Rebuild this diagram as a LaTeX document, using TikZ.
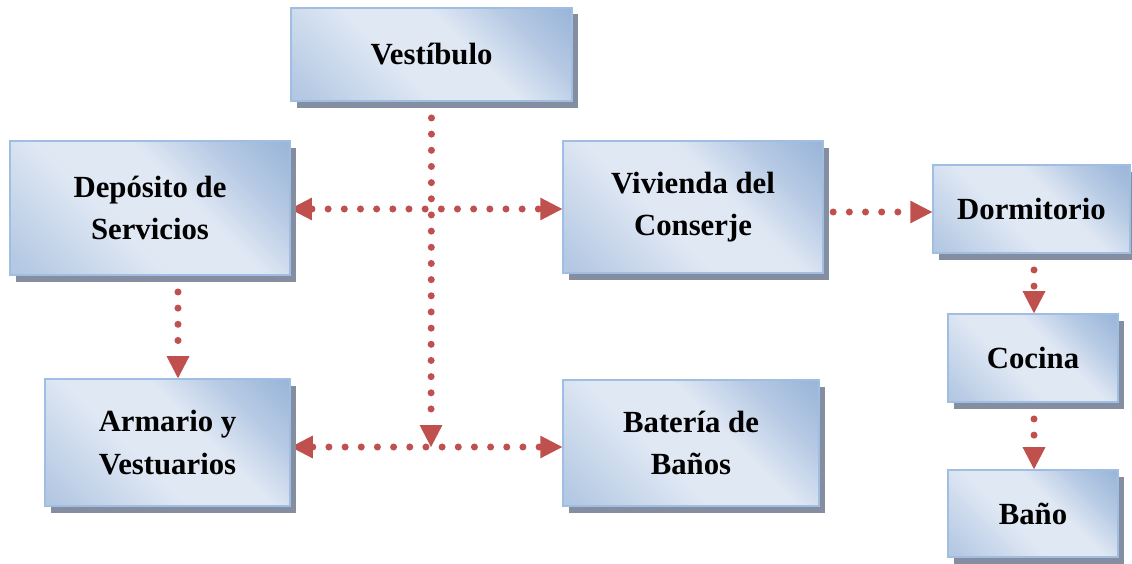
\documentclass[tikz,border=0pt]{standalone}
\usepackage{fontspec}
\setmainfont{Liberation Serif}
\usepackage{xcolor}
\usepackage{tikz}
\usetikzlibrary{arrows.meta,positioning,calc,shadows}
\definecolor{boxdark}{RGB}{146,176,214}
\definecolor{boxlight}{RGB}{224,232,244}
\definecolor{boxline}{RGB}{160,190,225}
\definecolor{shadowgray}{RGB}{132,142,160}
\definecolor{linkred}{RGB}{192,80,77}
\pgfdeclareverticalshading{roomshade}{100bp}{color(0bp)=(boxdark!80!boxlight); color(18bp)=(boxdark!55!boxlight);
  color(42bp)=(boxlight); color(58bp)=(boxlight); color(72bp)=(boxdark!55!boxlight); color(88bp)=(boxdark); color(100bp)=(boxdark)}
\pgfdeclarelayer{bg}
\pgfsetlayers{bg,main}

\begin{document}
\begin{tikzpicture}[
  room/.style={draw=boxline,line width=0.9pt,shading=roomshade,shading angle=-45,
    drop shadow={shadow xshift=0.12cm,shadow yshift=-0.13cm,fill=shadowgray,opacity=1},
    align=center,inner sep=0pt,font=\fontsize{17.5}{24}\selectfont\bfseries},
  link/.style={linkred,line width=4pt,line cap=round,dash pattern=on 0pt off 9.2pt,
    -{Triangle[length=12.5pt,width=13pt,line width=0pt]}},
  both/.style={link,{Triangle[length=12.5pt,width=13pt,line width=0pt]}-{Triangle[length=12.5pt,width=13pt,line width=0pt]}}]
\useasboundingbox (0,0) rectangle (22.64,-11.26);
\node[room,minimum width=5.62cm,minimum height=1.86cm] (vest) at (8.63,-1.09) {Vestíbulo};
\node[room,minimum width=5.6cm,minimum height=2.68cm] (dep) at (3.0,-4.16) {Depósito de\\Servicios};
\node[room,minimum width=5.2cm,minimum height=2.64cm] (viv) at (13.86,-4.14) {Vivienda del\\Conserje};
\node[room,minimum width=3.94cm,minimum height=1.76cm] (dorm) at (20.63,-4.18) {Dormitorio};
\node[room,minimum width=3.4cm,minimum height=1.76cm] (coc) at (20.66,-7.16) {Cocina};
\node[room,minimum width=3.4cm,minimum height=1.74cm] (bano) at (20.66,-10.27) {Baño};
\node[room,minimum width=4.9cm,minimum height=2.54cm] (arm) at (3.35,-8.85) {Armario y\\Vestuarios};
\node[room,minimum width=5.12cm,minimum height=2.52cm] (bat) at (13.82,-8.86) {Batería de\\Baños};
% corridor points
\coordinate (top) at (5.8,-4.18);
\coordinate (mid) at (8.62,-8.94);
\coordinate (vd) at (12.46,-4.24);
\coordinate (dep-s) at (3.56,-4.16);
\coordinate (dorm-s) at (20.68,-4.18);
\begin{pgfonlayer}{bg}
\draw[both] (top) -- (top -| viv.west);
\draw[link] (vest.south) -- (mid);
\draw[both] (arm.east |- mid) -- (bat.west |- mid);
\draw[link] (dep-s |- dep.south) -- (dep-s |- arm.north);
\draw[link] (vd) -- (vd -| dorm.west);
\draw[link] (dorm-s |- dorm.south) -- (dorm-s |- coc.north);
\draw[link] (dorm-s |- coc.south) -- (dorm-s |- bano.north);
\end{pgfonlayer}
\end{tikzpicture}
\end{document}
